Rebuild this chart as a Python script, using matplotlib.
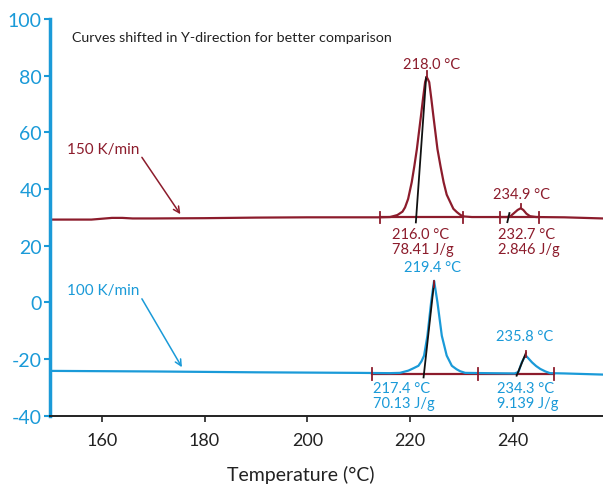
import matplotlib
matplotlib.use("Agg")
import matplotlib.pyplot as plt

plt.rcParams['font.family'] = ['Lato', 'DejaVu Sans']
plt.rcParams['axes.unicode_minus'] = False

RED = '#8c1c2c'
BLUE = '#1a9ad8'

# curve at 150 K/min (shifted up)
red_x = [150, 158, 160, 162, 164, 166, 170, 180, 190, 200, 210, 214, 216.1, 217.5, 218.5, 219.0,
         219.6, 220.3, 220.8, 221.3, 221.7, 222.1, 222.5, 222.9, 223.2, 223.5, 223.7, 224.1, 224.5,
         224.9, 225.3, 225.9, 226.5, 227.1, 227.8, 228.4, 229.1, 229.8, 230.5, 232, 235, 238.8,
         239.5, 240.2, 240.9, 241.5, 242.0, 242.6, 243.3, 244.5, 250, 257.5]
red_y = [29.2, 29.2, 29.5, 29.8, 29.8, 29.6, 29.6, 29.7, 29.9, 30.0, 30.0, 30.0, 30.1, 30.8, 32.0, 33.5,
         36.5, 42.4, 48.0, 54.1, 60.0, 65.9, 72.0, 77.7, 79.6, 78.5, 77.7, 72.0, 65.9,
         60.0, 54.1, 48.0, 42.4, 38.0, 35.3, 33.0, 31.8, 30.8, 30.3, 30.1, 30.1, 30.1,
         30.4, 31.5, 32.6, 33.2, 32.6, 31.3, 30.4, 30.1, 30.0, 29.6]

# curve at 100 K/min
blue_x = [150, 170, 190, 210, 216, 218.0, 219.65, 220.6, 221.6, 222.2, 222.7, 223.35, 224.07, 224.65,
          225.3, 226.15, 227.1, 228.1, 229.0, 229.7, 230.7, 235, 240.3, 241.05, 241.7, 242.2, 242.5,
          242.9, 243.7, 244.5, 245.3, 246.3, 247.2, 250, 257.5]
blue_y = [-24.2, -24.4, -24.7, -24.9, -25.0, -24.9, -24.1, -23.3, -22.4, -20.8, -18.8, -11.8, 0.0, 7.6,
          0.0, -11.8, -18.8, -22.4, -23.6, -24.3, -24.9, -25.0, -25.1, -24.6, -21.2, -19.5, -18.8,
          -19.6, -21.2, -22.5, -23.5, -24.4, -25.0, -25.1, -25.5]

# integration baselines, limit ticks and tangent lines
red_base = [(214.1, 230.3, 30.0), (237.4, 245.1, 30.0)]
blue_base = [(212.5, 248.0, -25.3)]
red_limits = [214.1, 230.3, 237.4, 245.1]
blue_limits = [212.5, 233.1, 248.0]
tangents = [((221.1, 223.1), (28.2, 79.4)), ((238.9, 239.3), (28.3, 31.5)),
            ((222.6, 224.65), (-26.5, 7.06)), ((240.7, 242.5), (-25.9, -17.9))]
peak_marks = [(223.2, 79.6, 81.5), (241.5, 33.2, 34.8), (224.65, 7.6, 5.5), (242.5, -19.4, -17.1)]

fig = plt.figure(figsize=(6.03, 4.85), dpi=100)
ax = fig.add_axes([0.0834, 0.1409, 0.9166, 0.8179])

for x0, x1, yb in red_base:
    ax.plot([x0, x1], [yb, yb], color=RED, lw=1.6)
for x0, x1, yb in blue_base:
    ax.plot([x0, x1], [yb, yb], color=RED, lw=1.6)

ax.plot(red_x, red_y, color=RED, lw=1.6)
ax.plot(blue_x, blue_y, color=BLUE, lw=1.6)

for xl in red_limits:
    ax.plot([xl, xl], [28.0, 32.0], color=RED, lw=1.3)
for xl in blue_limits:
    ax.plot([xl, xl], [-27.3, -23.3], color=RED, lw=1.3)
for xs, ys in tangents:
    ax.plot(xs, ys, color='#111111', lw=1.3)
for xp, y0, y1 in peak_marks:
    ax.plot([xp, xp], [y0, y1], color=RED, lw=1.3)

fs = 10.5
ax.text(224.1, 84.1, '218.0 °C', color=RED, fontsize=fs, ha='center', va='center')
ax.text(241.7, 38.2, '234.9 °C', color=RED, fontsize=fs, ha='center', va='center')
ax.text(216.5, 21.6, '216.0 °C\n78.41 J/g', color=RED, fontsize=fs, ha='left', va='center', linespacing=1.1)
ax.text(237.0, 21.6, '232.7 °C\n2.846 J/g', color=RED, fontsize=fs, ha='left', va='center', linespacing=1.1)
ax.text(224.4, 12.5, '219.4 °C', color=BLUE, fontsize=fs, ha='center', va='center')
ax.text(242.2, -11.8, '235.8 °C', color=BLUE, fontsize=fs, ha='center', va='center')
ax.text(212.8, -33.0, '217.4 °C\n70.13 J/g', color=BLUE, fontsize=fs, ha='left', va='center', linespacing=1.1)
ax.text(236.8, -33.0, '234.3 °C\n9.139 J/g', color=BLUE, fontsize=fs, ha='left', va='center', linespacing=1.1)

ax.text(154.2, 93.6, 'Curves shifted in Y-direction for better comparison', color='#222222',
        fontsize=10.3, ha='left', va='center')

ax.annotate('150 K/min', xy=(175.3, 31.1), xytext=(153.2, 54.1), color=RED, fontsize=11,
            ha='left', va='center',
            arrowprops=dict(arrowstyle='->', color=RED, lw=1.1, shrinkA=0, shrinkB=0,
                            relpos=(1.0, 0.2)))
ax.annotate('100 K/min', xy=(175.6, -22.9), xytext=(153.2, 4.4), color=BLUE, fontsize=11,
            ha='left', va='center',
            arrowprops=dict(arrowstyle='->', color=BLUE, lw=1.1, shrinkA=0, shrinkB=0,
                            relpos=(1.0, 0.2)))

ax.set_xlim(150, 257.5)
ax.set_ylim(-40, 100)
ax.set_xticks([160, 180, 200, 220, 240])
ax.set_yticks([-40, -20, 0, 20, 40, 60, 80, 100])
ax.spines['top'].set_visible(False)
ax.spines['right'].set_visible(False)
ax.spines['left'].set_color(BLUE)
ax.spines['left'].set_linewidth(2.5)
ax.spines['bottom'].set_color('#222222')
ax.spines['bottom'].set_linewidth(1.4)
ax.tick_params(axis='y', colors=BLUE, labelsize=14, length=4, width=1.5, pad=2)
ax.tick_params(axis='x', colors='#222222', labelsize=13, length=4, width=1.2, pad=8)
ax.set_xlabel('Temperature (°C)', fontsize=14, color='#222222')
ax.xaxis.set_label_coords(0.4536, -0.125)

fig.savefig('out.png', dpi=100)
